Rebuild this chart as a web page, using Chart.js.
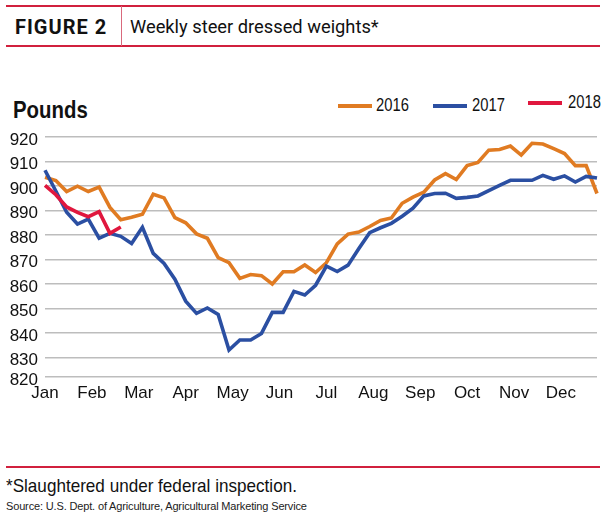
<!DOCTYPE html>
<html>
<head>
<meta charset="utf-8">
<script src="https://cdn.jsdelivr.net/npm/chart.js@4.4.1/dist/chart.umd.min.js"></script>
<style>
  html, body { margin: 0; padding: 0; background: #fff; }
  body { width: 610px; height: 518px; position: relative; overflow: hidden; }
  .abs { position: absolute; white-space: nowrap; }
  .rule { position: absolute; background: #d1203d; }
  .cond { font-family: "Liberation Sans", Arial, sans-serif; transform-origin: 0 50%; }
  #fig { left: 15px; top: 15px; font: bold 20px Roboto, sans-serif; letter-spacing: 1px; color: #111; line-height: 24px; }
  #title { left: 130px; top: 15px; font: 18.3px Roboto, sans-serif; color: #111; line-height: 24px; }
  #pounds { left: 13px; top: 96px; font-weight: bold; font-size: 24px; line-height: 28px; color: #111; transform: scaleX(0.85); }
  .key { position: absolute; height: 4px; width: 34px; }
  .keytxt { position: absolute; font-size: 18px; line-height: 20px; color: #111; transform: scaleX(0.82); }
  #note { left: 6px; top: 475px; font-size: 19px; color: #111; line-height: 22px; transform: scaleX(0.9); }
  #src { left: 6px; top: 499px; font-size: 11px; color: #222; line-height: 14px; letter-spacing: -0.15px; }
  #wrap { position: absolute; left: 0; top: 120px; width: 610px; height: 290px; }
</style>
</head>
<body>
<div class="rule" style="left:6px; top:5px; width:594px; height:2px;"></div>
<div class="rule" style="left:6px; top:45px; width:594px; height:2px;"></div>
<div class="rule" style="left:121px; top:6px; width:1px; height:40px; background:#d9697c;"></div>
<div id="fig" class="abs">FIGURE 2</div>
<div id="title" class="abs">Weekly steer dressed weights*</div>

<div id="pounds" class="abs cond">Pounds</div>
<div class="key" style="left:338px; top:104px; background:#e07b22;"></div>
<div class="keytxt cond" style="left:376px; top:95px;">2016</div>
<div class="key" style="left:433px; top:104px; background:#2b4fa2;"></div>
<div class="keytxt cond" style="left:472px; top:95px;">2017</div>
<div class="key" style="left:528px; top:101px; background:#e0173e;"></div>
<div class="keytxt cond" style="left:568px; top:92px;">2018</div>

<div id="wrap"><canvas id="steerChart"></canvas></div>

<div class="rule" style="left:6px; top:466px; width:594px; height:2px;"></div>
<div id="note" class="abs cond">*Slaughtered under federal inspection.</div>
<div id="src" class="abs cond">Source: U.S. Dept. of Agriculture, Agricultural Marketing Service</div>

<script>
// Etiquetas de meses (eje x) y valores semanales, libras
const months = ['Jan', 'Feb', 'Mar', 'Apr', 'May', 'Jun', 'Jul', 'Aug', 'Sep', 'Oct', 'Nov', 'Dec'];
const yTicks = [822, 830, 840, 850, 860, 870, 880, 890, 900, 910, 920];

const w2016 = [903.6, 902.3, 897.8, 900, 897.8, 899.6, 891.3, 886.3, 887.3, 888.5,
               896.7, 895.2, 887.1, 885, 880.5, 878.7, 870.8, 868.7, 862.3, 863.9,
               863.4, 860, 865, 865, 867.8, 864.7, 868.7, 876.4, 880.4, 881.2,
               883.5, 886, 887, 893, 895.5, 897.5, 902.5, 905.1, 902.7, 908.4,
               909.7, 914.7, 915, 916.4, 912.7, 917.5, 917.2, 915.3, 913.3, 908.4,
               908.4, 897];
const w2017 = [906.5, 898, 889.3, 884.5, 886.5, 878.7, 880.7, 879.5, 876.6, 883.2,
               872.5, 868.4, 862, 853, 848, 850.2, 847.6, 833, 837.1, 837.1,
               839.8, 848.4, 848.4, 857, 855.5, 859.5, 867.3, 865.1, 867.7, 874.5,
               881, 883, 884.8, 887.7, 891, 896, 897, 897.1, 895, 895.4,
               896, 898.2, 900.3, 902.4, 902.4, 902.4, 904.4, 902.8, 904.2, 901.7,
               904, 903.3, 902.5];
const w2018 = [900.3, 896.5, 891.5, 889.3, 887.5, 889.6, 880.7, 883.3];

const tickFont = { family: '"Liberation Sans", Arial, sans-serif', size: 17 };

function toPoints(arr) {
    return arr.map((v, i) => ({ x: i, y: v }));
}

function serie(label, arr, color, order) {
    return {
        label: label,
        data: toPoints(arr),
        borderColor: color,
        backgroundColor: color,
        borderWidth: 3.6,
        pointRadius: 0,
        tension: 0,
        order: order,
        clip: false
    };
}

document.addEventListener('DOMContentLoaded', function() {
    const ctx = document.getElementById('steerChart').getContext('2d');
    new Chart(ctx, {
        type: 'line',
        data: {
            datasets: [
                serie('2016', w2016, '#e07b22', 3),
                serie('2017', w2017, '#2b4fa2', 2),
                serie('2018', w2018, '#e0173e', 1)
            ]
        },
        options: {
            responsive: true,
            maintainAspectRatio: false,
            animation: false,
            layout: { padding: { top: 12, right: 13, left: 0, bottom: 0 } },
            plugins: {
                legend: { display: false },
                tooltip: { enabled: false }
            },
            scales: {
                x: {
                    type: 'linear',
                    min: 0,
                    max: 51,
                    afterBuildTicks: function(scale) {
                        scale.ticks = months.map((m, i) => ({ value: i * 52 / 12 }));
                    },
                    afterFit: function(scale) { scale.height = 33; },
                    ticks: {
                        autoSkip: false,
                        maxRotation: 0,
                        padding: 6,
                        color: '#111',
                        font: tickFont,
                        callback: function(value, index) { return months[index]; }
                    },
                    grid: { display: false, drawTicks: false },
                    border: { display: false }
                },
                y: {
                    min: 822,
                    max: 920,
                    afterBuildTicks: function(scale) {
                        scale.ticks = yTicks.map(v => ({ value: v }));
                    },
                    afterFit: function(scale) { scale.width = 45; },
                    ticks: {
                        autoSkip: false,
                        padding: 7,
                        labelOffset: 3,
                        color: '#111',
                        font: tickFont,
                        callback: function(value) { return value === 822 ? '820' : value; }
                    },
                    grid: { color: '#bdbdbd', lineWidth: 1.6, drawTicks: false },
                    border: { display: false }
                }
            }
        }
    });
});
</script>
</body>
</html>
